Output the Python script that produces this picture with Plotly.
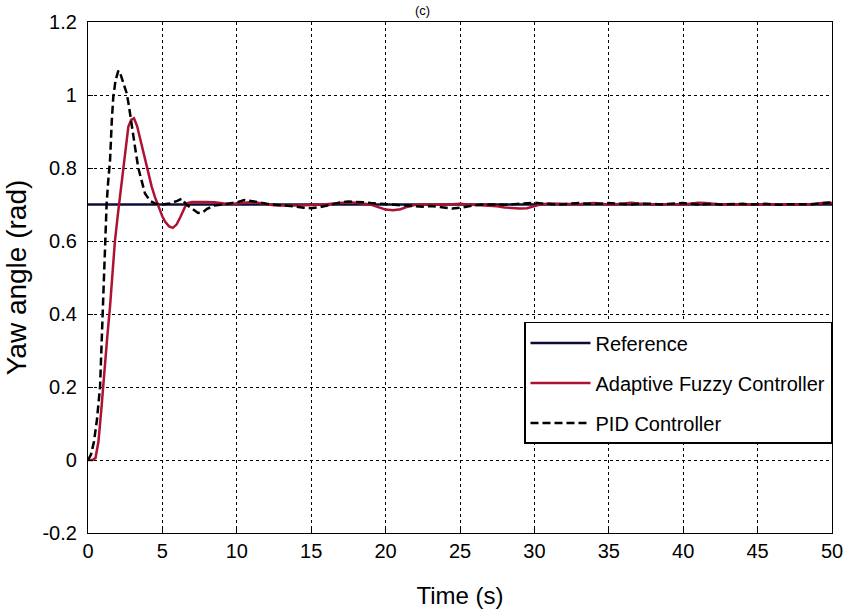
import plotly.graph_objects as go

# ---- data ----
ref_t = [0, 50]
ref_y = [0.7, 0.7]

afc_t = [0, 0.3, 0.5, 0.7, 0.9, 1.14, 1.3, 1.48, 1.65, 1.81, 2.0, 2.15, 2.37, 2.55, 2.71, 2.9, 3.09, 3.3, 3.5, 3.72, 3.95, 4.28, 4.5, 4.73, 5.0, 5.2, 5.45, 5.7, 5.95, 6.2, 6.4, 6.63, 7.0, 7.5, 8.0,
         8.5, 9.0, 9.5, 10.0, 10.5, 11.0, 11.5, 12.0, 12.5, 13.0, 13.5, 14.0, 14.5, 15.0, 15.5, 16.0, 16.5, 17.0, 17.5, 18.0, 18.5, 19.0, 19.5,
         20.0, 20.5, 21.0, 21.5, 22.0, 22.5, 23.0, 23.5, 24.0, 24.5, 25.0, 25.5, 26.0, 26.5, 27.0, 27.5, 28.0, 28.5, 29.0, 29.5, 30.0,
         30.5, 31.0, 31.5, 32.0, 32.5, 33.0, 33.5, 34.0, 34.5, 35.0, 35.5, 36.0, 36.5, 37.0, 37.5, 38.0, 38.5, 39.0, 39.5, 40.0,
         40.5, 41.0, 41.5, 42.0, 42.5, 43.0, 43.5, 44.0, 44.5, 45.0, 45.5, 46.0, 46.5, 47.0, 47.5, 48.0, 48.5, 49.0, 49.5, 50.0]
afc_y = [0, 0, 0.005, 0.05, 0.14, 0.274, 0.34, 0.42, 0.51, 0.60, 0.67, 0.72, 0.80, 0.865, 0.913, 0.932, 0.936, 0.915, 0.88, 0.849, 0.80, 0.749, 0.72, 0.694, 0.667, 0.652, 0.64, 0.636, 0.645, 0.665, 0.683, 0.703, 0.707, 0.708, 0.707,
         0.706, 0.703, 0.701, 0.703, 0.706, 0.707, 0.704, 0.700, 0.698, 0.697, 0.696, 0.697, 0.698, 0.698, 0.699, 0.701, 0.703, 0.705, 0.706, 0.705, 0.703, 0.700, 0.693,
         0.686, 0.684, 0.687, 0.694, 0.699, 0.700, 0.699, 0.698, 0.699, 0.701, 0.702, 0.700, 0.699, 0.698, 0.697, 0.695, 0.692, 0.690, 0.689, 0.690, 0.695,
         0.701, 0.703, 0.702, 0.701, 0.700, 0.701, 0.703, 0.704, 0.702, 0.700, 0.701, 0.704, 0.705, 0.703, 0.701, 0.700, 0.701, 0.702, 0.701, 0.700,
         0.702, 0.705, 0.704, 0.701, 0.700, 0.700, 0.701, 0.702, 0.701, 0.700, 0.699, 0.700, 0.701, 0.700, 0.699, 0.700, 0.701, 0.703, 0.705, 0.704]

pid_t = [0, 0.2, 0.4, 0.6, 0.81, 0.96, 1.05, 1.14, 1.25, 1.35, 1.48, 1.6, 1.7, 1.85, 2.04, 2.2, 2.4, 2.6, 2.75, 2.94, 3.15, 3.38, 3.6, 3.83, 4.17, 4.5, 5.0, 5.5, 6.0, 6.3, 6.6, 7.0, 7.4, 7.7, 8.0, 8.5,
         9.0, 9.5, 10.0, 10.5, 11.0, 11.5, 12.0, 12.5, 13.0, 13.5, 14.0, 14.5, 15.0, 15.5, 16.0, 16.5, 17.0, 17.5, 18.0, 18.5, 19.0, 19.5,
         20.0, 20.5, 21.0, 21.5, 22.0, 22.5, 23.0, 23.5, 24.0, 24.5, 25.0, 25.5, 26.0, 26.5, 27.0, 27.5, 28.0, 28.5, 29.0, 29.5, 30.0,
         30.5, 31.0, 31.5, 32.0, 32.5, 33.0, 33.5, 34.0, 34.5, 35.0, 35.5, 36.0, 36.5, 37.0, 37.5, 38.0, 38.5, 39.0, 39.5, 40.0,
         40.5, 41.0, 41.5, 42.0, 42.5, 43.0, 43.5, 44.0, 44.5, 45.0, 45.5, 46.0, 46.5, 47.0, 47.5, 48.0, 48.5, 49.0, 49.5, 50.0]
pid_y = [0, 0.015, 0.05, 0.11, 0.2, 0.39, 0.475, 0.60, 0.70, 0.76, 0.82, 0.93, 0.995, 1.04, 1.067, 1.055, 1.03, 1.005, 0.97, 0.913, 0.86, 0.80, 0.765, 0.73, 0.71, 0.703, 0.700, 0.703, 0.710, 0.716, 0.700, 0.688, 0.677, 0.678, 0.688, 0.697,
         0.700, 0.701, 0.706, 0.712, 0.710, 0.706, 0.702, 0.700, 0.700, 0.697, 0.694, 0.691, 0.690, 0.692, 0.697, 0.702, 0.706, 0.708, 0.708, 0.706, 0.704, 0.702,
         0.700, 0.699, 0.698, 0.697, 0.695, 0.694, 0.696, 0.693, 0.690, 0.689, 0.691, 0.695, 0.698, 0.700, 0.701, 0.700, 0.699, 0.701, 0.702, 0.703, 0.705,
         0.703, 0.701, 0.700, 0.701, 0.703, 0.704, 0.702, 0.701, 0.702, 0.704, 0.703, 0.701, 0.700, 0.702, 0.703, 0.702, 0.700, 0.701, 0.703, 0.704,
         0.702, 0.700, 0.701, 0.702, 0.700, 0.701, 0.703, 0.702, 0.700, 0.701, 0.702, 0.700, 0.699, 0.701, 0.702, 0.701, 0.700, 0.701, 0.704, 0.706]

x_ticks = [0, 5, 10, 15, 20, 25, 30, 35, 40, 45, 50]
y_ticks = [-0.2, 0, 0.2, 0.4, 0.6, 0.8, 1, 1.2]
y_tick_text = ["-0.2", "0", "0.2", "0.4", "0.6", "0.8", "1", "1.2"]

FONT = "Liberation Sans, Arial, sans-serif"

fig = go.Figure()
fig.add_trace(go.Scatter(x=ref_t, y=ref_y, mode="lines", name="Reference", legendgroup="a",
                         line=dict(color="#0c0c3a", width=2.5)))
fig.add_trace(go.Scatter(x=afc_t, y=afc_y, mode="lines", name="Adaptive Fuzzy Controller", legendgroup="b",
                         line=dict(color="#ad1232", width=2.5)))
fig.add_trace(go.Scatter(x=pid_t, y=pid_y, mode="lines", name="PID Controller", legendgroup="c",
                         line=dict(color="black", width=2.5, dash="8px,4px")))

axis_common = dict(showline=True, linecolor="black", linewidth=1.2, mirror=True,
                   showgrid=True, gridcolor="black", gridwidth=1, griddash="3px,3px",
                   ticks="inside", ticklen=5, tickcolor="black", zeroline=False, automargin=False,
                   tickfont=dict(family=FONT, size=20, color="black"))

fig.update_xaxes(range=[0, 50], tickvals=x_ticks, **axis_common,
                 title=dict(text="Time (s)", font=dict(family=FONT, size=24, color="black"), standoff=26))
fig.update_yaxes(range=[-0.2, 1.2], tickvals=y_ticks, ticktext=y_tick_text, ticklabelstandoff=6, **axis_common,
                 title=dict(text="Yaw angle (rad)", font=dict(family=FONT, size=28, color="black"), standoff=7))

fig.update_layout(
    width=847, height=611,
    margin=dict(l=88, r=15, t=22, b=78),
    paper_bgcolor="white", plot_bgcolor="white",
    showlegend=True,
    legend=dict(x=1, y=0.413, xanchor="right", yanchor="top",
                bgcolor="white", bordercolor="black", borderwidth=1.5,
                font=dict(family=FONT, size=20, color="black"),
                itemwidth=60, tracegroupgap=11),
    annotations=[dict(text="(c)", x=0.45, y=1, xref="paper", yref="paper", yanchor="bottom",
                      yshift=2, showarrow=False, font=dict(family=FONT, size=13, color="black"))],
)

fig.write_html("out.html")
